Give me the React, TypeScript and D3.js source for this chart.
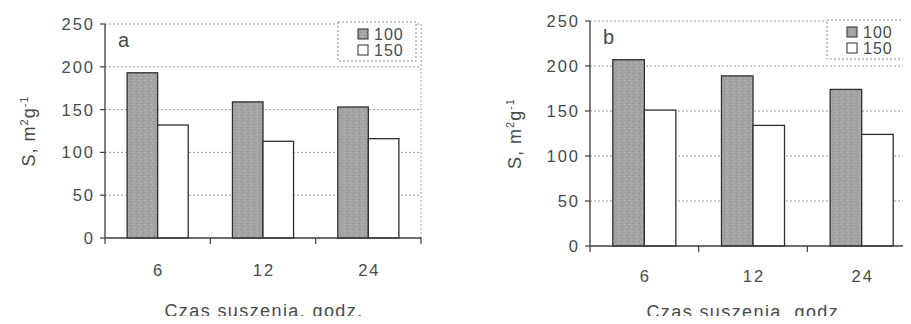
import React from 'react';
import * as d3 from 'd3';

// czas suszenia (h) and two temperature series, panels a and b
const categories = ['6', '12', '24'];
const seriesNames = ['100', '150'];
const valuesA100 = [193, 159, 153];
const valuesA150 = [132, 113, 116];
const valuesB100 = [207, 189, 174];
const valuesB150 = [151, 134, 124];
const yTicks = [0, 50, 100, 150, 200, 250];

const font = '"Liberation Sans", Arial, sans-serif';
const ink = '#3c3c3c';
const textInk = '#4a4a4a';

type PanelProps = {
  tag: string;
  s100: number[];
  s150: number[];
  left: number;
  right: number;
  top: number;
  bottom: number;
  tickBaseline: number;
  labelX: number;
  labelBaseline: number;
  yLabelX: number;
  legendX: number;
  legendW: number;
  legendTop: number;
};

const Panel = (p: PanelProps) => {
  const y = d3.scaleLinear().domain([0, 250]).range([p.bottom, p.top]);
  const x0 = d3.scaleBand().domain(categories).range([p.left, p.right]);
  const bw = x0.bandwidth();
  const barW = bw * 0.29;
  const x1 = d3.scaleBand().domain(seriesNames).range([bw / 2 - barW, bw / 2 + barW]);
  const rows = [p.s100, p.s150];

  return (
    <g fontFamily={font} fill={textInk}>
      {/* grid + frame */}
      {yTicks.filter(t => t > 0).map(t => (
        <line key={t} x1={p.left} x2={p.right} y1={y(t)} y2={y(t)} stroke="#9a9a9a" strokeDasharray="2,2" />
      ))}
      <line x1={p.right} x2={p.right} y1={p.top} y2={p.bottom} stroke="#9a9a9a" strokeDasharray="2,2" />

      {/* bars */}
      {categories.map((c, i) => (
        <g key={c} transform={`translate(${x0(c)},0)`}>
          {seriesNames.map((s, j) => (
            <rect key={s} x={x1(s)} y={y(rows[j][i])} width={x1.bandwidth()} height={p.bottom - y(rows[j][i])}
              fill={j === 0 ? 'url(#grain)' : '#fff'} stroke="#2e2e2e" strokeWidth={1.3} />
          ))}
        </g>
      ))}

      {/* axes */}
      <line x1={p.left} x2={p.left} y1={p.top} y2={p.bottom} stroke={ink} strokeWidth={1.3} />
      <line x1={p.left} x2={p.right} y1={p.bottom} y2={p.bottom} stroke={ink} strokeWidth={1.6} />
      {yTicks.map(t => (
        <g key={t}>
          <line x1={p.left - 5} x2={p.left} y1={y(t)} y2={y(t)} stroke={ink} strokeWidth={1.2} />
          <text x={p.left - 10} y={y(t)} dy="0.36em" textAnchor="end" fontSize={16.5} letterSpacing={2}>{t}</text>
        </g>
      ))}
      {[...categories.map(c => x0(c) as number), p.right].map((v, i) => (
        <line key={i} x1={v} x2={v} y1={p.bottom} y2={p.bottom + 6} stroke={ink} strokeWidth={1.2} />
      ))}
      {categories.map(c => (
        <text key={c} x={(x0(c) as number) + bw / 2 + 1} y={p.tickBaseline} textAnchor="middle" fontSize={16.5} letterSpacing={2}>{c}</text>
      ))}

      <text x={p.labelX} y={p.labelBaseline} textAnchor="middle" fontSize={18} letterSpacing={1.4}>Czas suszenia, godz.</text>
      <text transform={`translate(${p.yLabelX},${(p.top + p.bottom) / 2}) rotate(-90)`} textAnchor="middle" fontSize={18} letterSpacing={1}>
        S, m<tspan dy={-7} fontSize={11}>2</tspan><tspan dy={7}>g</tspan><tspan dy={-7} fontSize={11}>-1</tspan>
      </text>

      <text x={p.left + 13} y={p.top + 23} fontSize={20}>{p.tag}</text>

      {/* legend */}
      <rect x={p.legendX} y={p.legendTop} width={p.legendW} height={39} fill="#fff" stroke="#8a8a8a" strokeDasharray="2,2" />
      {seriesNames.map((s, j) => (
        <g key={s} transform={`translate(${p.legendX + 20},${p.legendTop + 12 + j * 16})`}>
          <rect x={0} y={-5} width={10} height={10} fill={j === 0 ? 'url(#grain)' : '#fff'} stroke="#2e2e2e" />
          <text x={16} y={0} dy="0.36em" fontSize={16} letterSpacing={1}>{s}</text>
        </g>
      ))}
    </g>
  );
};

export default function App() {
  return (
    <svg width={911} height={324} style={{ display: 'block', margin: '-8px', background: '#fff' }}>
      <defs>
        <pattern id="grain" width={6} height={6} patternUnits="userSpaceOnUse">
          <rect width={6} height={6} fill="#a4a4a4" />
          <rect x={1} y={1} width={1} height={1} fill="#8a8a8a" />
          <rect x={4} y={2} width={1} height={1} fill="#c2c2c2" />
          <rect x={2} y={4} width={1} height={1} fill="#909090" />
          <rect x={5} y={5} width={1} height={1} fill="#b8b8b8" />
        </pattern>
      </defs>
      <Panel tag="a" s100={valuesA100} s150={valuesA150}
        left={105} right={421} top={24} bottom={238} tickBaseline={276}
        labelX={264} labelBaseline={317} yLabelX={35}
        legendX={338} legendW={78} legendTop={22} />
      <Panel tag="b" s100={valuesB100} s150={valuesB150}
        left={590} right={916} top={21} bottom={246} tickBaseline={282}
        labelX={746} labelBaseline={318} yLabelX={521}
        legendX={827} legendW={81} legendTop={20} />
    </svg>
  );
}
